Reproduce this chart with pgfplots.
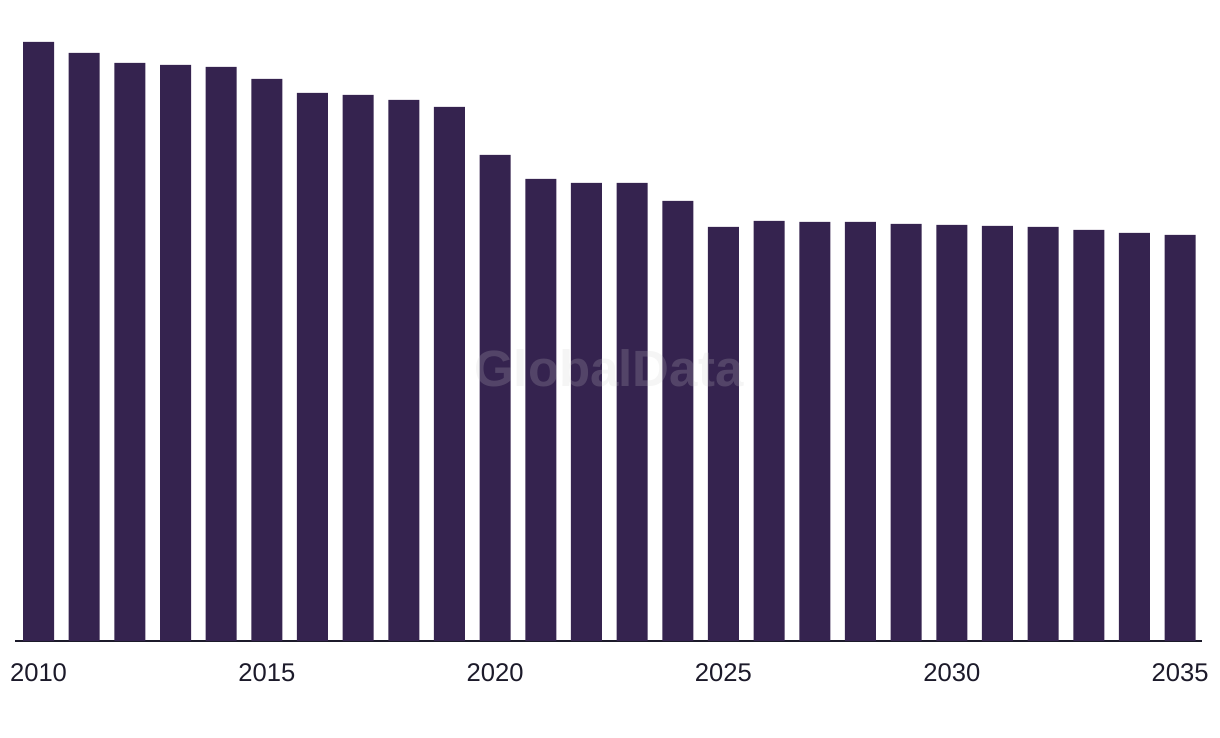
\documentclass[border=0pt]{standalone}
\usepackage{pgfplots}
\pgfplotsset{compat=1.18}
\usepackage{fontspec}
\setmainfont{Liberation Sans}
\definecolor{barc}{HTML}{35234F}
\definecolor{axc}{HTML}{1C1A2A}
\begin{document}
\begin{tikzpicture}[x=1pt,y=1pt]
\path[use as bounding box] (-7.5,-48.5) rectangle (602.5,320.5);
\begin{axis}[
  at={(0,0)}, anchor=south west,
  scale only axis, width=593.5pt, height=320.5pt,
  xmin=2009.485, xmax=2035.48, ymin=0, ymax=641,
  axis y line=none,
  axis x line*=bottom,
  x axis line style={draw=axc, line width=1pt, -},
  xtick={2010,2015,2020,2025,2030,2035},
  xticklabel style={font=\fontsize{12.8}{14}\selectfont, text=axc, yshift=-8pt},
  /pgf/number format/assume math mode=true,
  /pgf/number format/set thousands separator={},
  major tick length=0pt,
  ybar, bar width=15.5pt, bar shift=0pt,
  clip=false,
]
\addplot[fill=barc, draw=none] coordinates {
(2010,599) (2011,588) (2012,578) (2013,576) (2014,574)
(2015,562) (2016,548) (2017,546) (2018,541) (2019,534)
(2020,486) (2021,462) (2022,458) (2023,458) (2024,440)
(2025,414) (2026,420) (2027,419) (2028,419) (2029,417)
(2030,416) (2031,415) (2032,414) (2033,411) (2034,408)
(2035,406)};
\node[anchor=base, text=gray!40, opacity=0.2, font=\bfseries\fontsize{25.5}{28}\selectfont] at (axis cs:2022.49,254) {GlobalData};
\end{axis}
\end{tikzpicture}
\end{document}
